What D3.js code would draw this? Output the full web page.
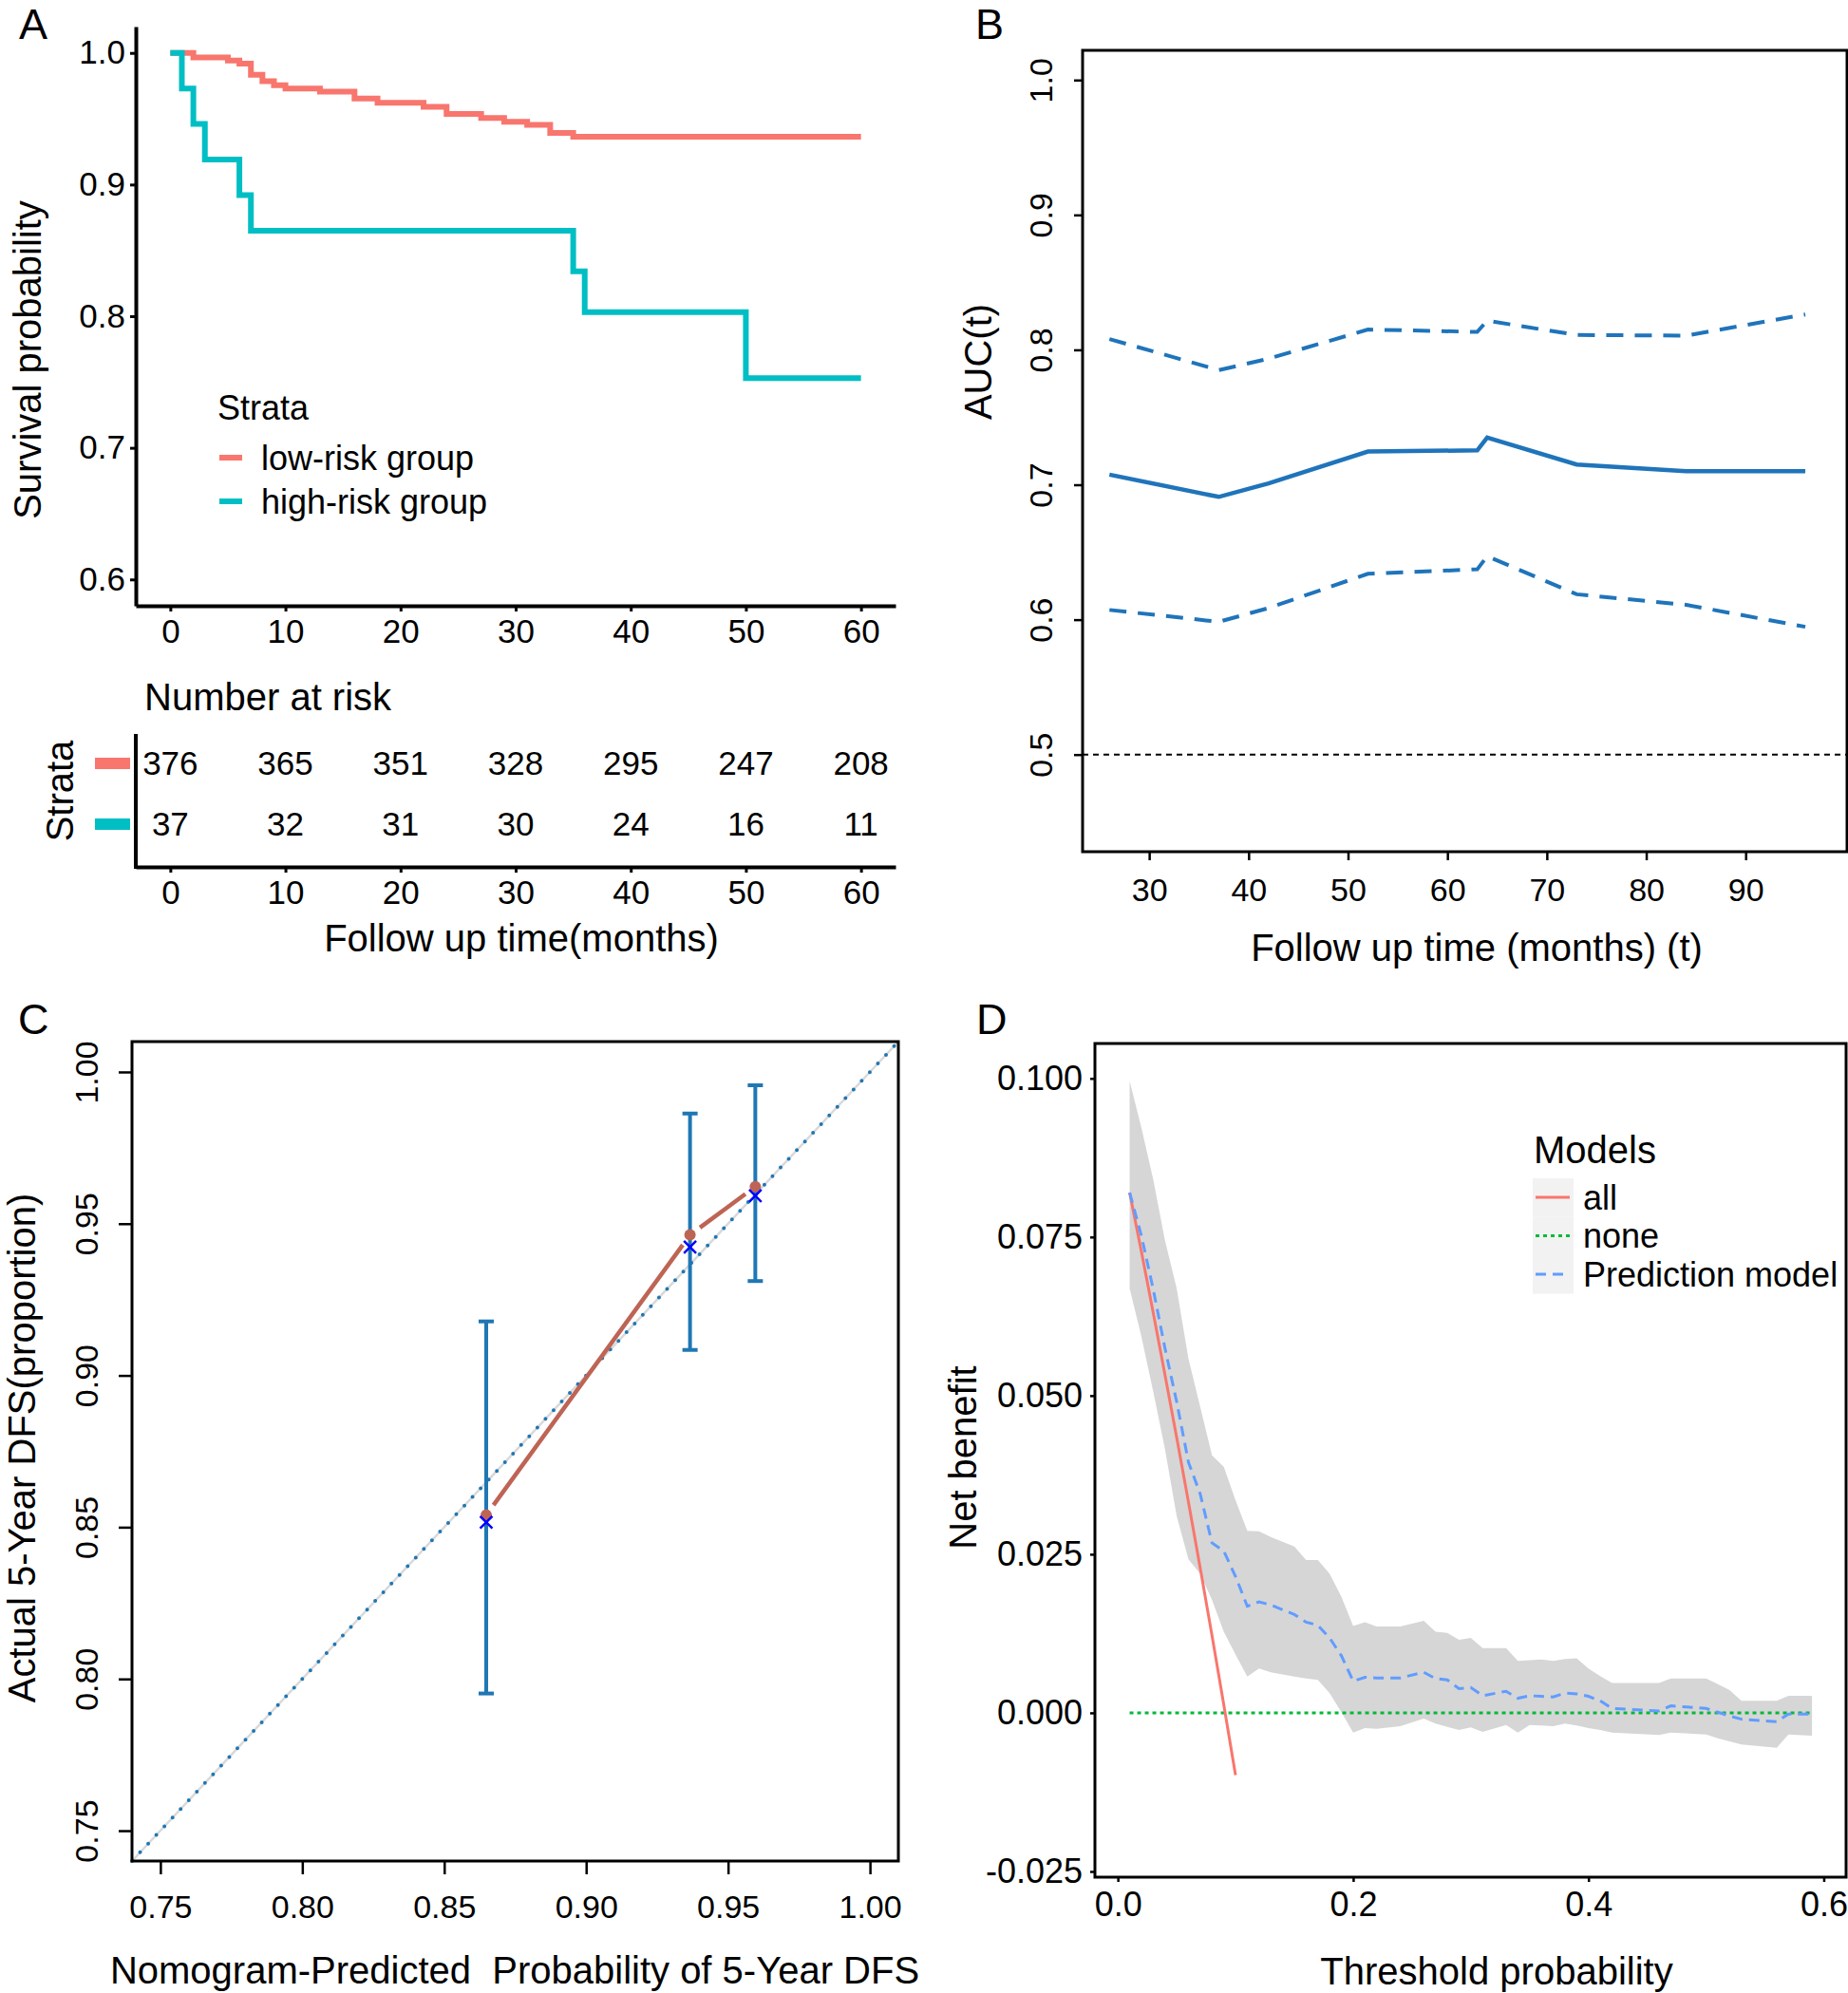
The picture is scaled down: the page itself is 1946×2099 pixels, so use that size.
<!DOCTYPE html>
<html lang="en">
<head>
<meta charset="utf-8">
<title>Survival, time-dependent AUC, calibration and decision curve</title>
<script src="https://d3js.org/d3.v7.min.js"></script>
<style>
  body { margin: 0; background: #fff; }
  svg text { font-family: "Liberation Sans", Arial, Helvetica, sans-serif; fill: #000; }
  .tag { font-size: 45px; }
  .title { font-size: 40px; }
</style>
</head>
<body>
<svg id="fig" width="1946" height="2099"></svg>
<script>
// ---- A: Kaplan-Meier ----
const kmLowTime  = [0, 2, 5, 6, 7, 8, 9, 10, 13, 16, 18, 22, 24, 27, 29, 31, 33, 35, 60];
const kmLowSurv  = [1.0, 0.9966, 0.9942, 0.9918, 0.9834, 0.9785, 0.9754, 0.973, 0.9706, 0.9653,
                    0.9622, 0.959, 0.9537, 0.9506, 0.9477, 0.9453, 0.9392, 0.9363, 0.9363];
const kmHighTime = [0, 1, 2, 3, 6, 7, 35, 36, 50, 60];
const kmHighSurv = [1.0, 0.973, 0.946, 0.919, 0.892, 0.865, 0.834, 0.803, 0.753, 0.753];
const kmYTicks   = [0.6, 0.7, 0.8, 0.9, 1.0];
const riskTimes  = [0, 10, 20, 30, 40, 50, 60];
const riskLow    = [376, 365, 351, 328, 295, 247, 208];
const riskHigh   = [37, 32, 31, 30, 24, 16, 11];
const strataNames = ["low-risk group", "high-risk group"];

// ---- B: time-dependent AUC ----
const aucTime  = [26, 37, 42, 52, 63, 64, 73, 84, 96];
const aucMean  = [0.7075, 0.691, 0.701, 0.7246, 0.7255, 0.735, 0.715, 0.710, 0.710];
const aucUpper = [0.808, 0.785, 0.7934, 0.815, 0.8133, 0.8216, 0.811, 0.8105, 0.8262];
const aucLower = [0.6072, 0.5984, 0.6086, 0.634, 0.6373, 0.647, 0.6188, 0.611, 0.5947];
const aucXTicks = [30, 40, 50, 60, 70, 80, 90];
const aucYTicks = [0.5, 0.6, 0.7, 0.8, 0.9, 1.0];

// ---- C: calibration ----
const calPred = [0.8648, 0.9366, 0.9596];
const calObs  = [0.8540, 0.9463, 0.9622];
const calKM   = [0.8516, 0.9423, 0.9592];
const calLo   = [0.7952, 0.9084, 0.9311];
const calHi   = [0.9178, 0.9863, 0.9956];
const calTicks = [0.75, 0.80, 0.85, 0.90, 0.95, 1.00];

// ---- D: decision curve ----
const dcaThresh = [0.01, 0.02, 0.03, 0.04, 0.05, 0.06, 0.07, 0.08, 0.09, 0.10, 0.11, 0.12, 0.13, 0.15,
                   0.16, 0.17, 0.18, 0.19, 0.20, 0.21, 0.22, 0.24, 0.26, 0.27, 0.28, 0.29, 0.30, 0.31,
                   0.33, 0.34, 0.35, 0.36, 0.37, 0.38, 0.39, 0.40, 0.41, 0.42, 0.46, 0.47, 0.50, 0.51,
                   0.52, 0.53, 0.56, 0.57, 0.59];
const dcaModel = [0.0820, 0.0752, 0.0668, 0.0575, 0.0490, 0.0395, 0.0345, 0.0268, 0.0255, 0.0215,
                  0.0168, 0.0175, 0.0170, 0.0155, 0.0143, 0.0138, 0.0118, 0.0090, 0.0050, 0.0056,
                  0.0055, 0.0055, 0.0064, 0.0054, 0.0052, 0.0038, 0.0040, 0.0027, 0.0034, 0.0023,
                  0.0027, 0.0026, 0.0025, 0.0031, 0.0030, 0.0026, 0.0019, 0.0007, 0.0003, 0.0011,
                  0.0007, 0.0001, -0.0005, -0.0010, -0.0014, -0.0002, -0.0002];
const dcaHi    = [0.0996, 0.0922, 0.0841, 0.0745, 0.0669, 0.0558, 0.0482, 0.0406, 0.0388, 0.0335,
                  0.0287, 0.0286, 0.0277, 0.0262, 0.0241, 0.0241, 0.0219, 0.0183, 0.0137, 0.0143,
                  0.0136, 0.0136, 0.0145, 0.0128, 0.0126, 0.0115, 0.0118, 0.0102, 0.0102, 0.0082,
                  0.0083, 0.0084, 0.0082, 0.0085, 0.0086, 0.0070, 0.0058, 0.0047, 0.0047, 0.0054,
                  0.0054, 0.0045, 0.0036, 0.0019, 0.0019, 0.0027, 0.0027];
const dcaLo    = [0.0669, 0.0593, 0.0507, 0.0416, 0.0310, 0.0242, 0.0219, 0.0178, 0.0128, 0.0092,
                  0.0057, 0.0070, 0.0064, 0.0057, 0.0054, 0.0052, 0.0031, 0.0001, -0.0031, -0.0024,
                  -0.0025, -0.0021, -0.0009, -0.0017, -0.0022, -0.0027, -0.0023, -0.0030, -0.0019, -0.0031,
                  -0.0019, -0.0020, -0.0021, -0.0017, -0.0020, -0.0024, -0.0027, -0.0031, -0.0035, -0.0031,
                  -0.0034, -0.0040, -0.0045, -0.0050, -0.0055, -0.0034, -0.0036];
const dcaAllThresh = [0.01, 0.02, 0.03, 0.04, 0.05, 0.06, 0.07, 0.08, 0.09, 0.10];
const dcaAll       = [0.0820, 0.0727, 0.0631, 0.0533, 0.0434, 0.0332, 0.0228, 0.0122, 0.0013, -0.0098];
const dcaNoneThresh = [0.01, 0.59];
const dcaNone       = [0, 0];
const dcaXTicks = [0, 0.2, 0.4, 0.6];
const dcaYTicks = [-0.025, 0, 0.025, 0.05, 0.075, 0.1];
const modelNames = ["all", "none", "Prediction model"];

const svg = d3.select("#fig");
svg.append("rect").attr("width", 1946).attr("height", 2099).attr("fill", "#fff");

function styleAxis(g, size, tickW) {
  g.selectAll(".tick line").attr("stroke", "#000").attr("stroke-width", tickW);
  g.selectAll(".tick text").style("font-size", size + "px");
}
function rotateTicks(g, off) {
  g.selectAll(".tick text")
    .attr("x", 0).attr("y", -off).attr("dy", null)
    .attr("text-anchor", "middle")
    .attr("transform", "rotate(-90)");
}
function vTitle(x, y, txt) {
  svg.append("text").attr("class", "title")
    .attr("transform", `translate(${x},${y}) rotate(-90)`)
    .attr("text-anchor", "middle").style("white-space", "pre").text(txt);
}
function hTitle(x, y, txt, size) {
  return svg.append("text").attr("class", "title").attr("x", x).attr("y", y)
    .attr("text-anchor", "middle").style("white-space", "pre")
    .style("font-size", (size || 40) + "px").text(txt);
}

// ================= Panel A =================
const xA = d3.scaleLinear().domain([-3, 63]).range([143, 943]);
const yA = d3.scaleLinear().domain([0.58, 1.02]).range([638, 28]);
const redKM = "#F8766D", cyanKM = "#00BFC4";

const axAx = svg.append("g").attr("transform", "translate(0,638)")
  .call(d3.axisBottom(xA).tickValues(riskTimes).tickSize(6).tickSizeOuter(0).tickPadding(8));
axAx.select(".domain").attr("stroke-width", 4);
styleAxis(axAx, 35, 3);
const axAy = svg.append("g").attr("transform", "translate(143,0)")
  .call(d3.axisLeft(yA).tickValues(kmYTicks).tickFormat(d3.format(".1f")).tickSize(6).tickSizeOuter(0).tickPadding(5));
axAy.select(".domain").attr("stroke-width", 4);
styleAxis(axAy, 35, 3);

const stepLine = d3.line().curve(d3.curveStepAfter).x(d => xA(d[0])).y(d => yA(d[1]));
svg.append("path").datum(d3.zip(kmLowTime, kmLowSurv)).attr("d", stepLine)
  .attr("fill", "none").attr("stroke", redKM).attr("stroke-width", 6);
svg.append("path").datum(d3.zip(kmHighTime, kmHighSurv)).attr("d", stepLine)
  .attr("fill", "none").attr("stroke", cyanKM).attr("stroke-width", 6);

// legend
svg.append("text").attr("x", 229).attr("y", 442).style("font-size", "36px").text("Strata");
[redKM, cyanKM].forEach((c, i) => {
  const y = 482 + i * 46;
  svg.append("line").attr("x1", 231).attr("x2", 255).attr("y1", y).attr("y2", y)
    .attr("stroke", c).attr("stroke-width", 6);
  svg.append("text").attr("x", 275).attr("y", y).attr("dy", "0.35em")
    .style("font-size", "36px").text(strataNames[i]);
});
vTitle(43, 379, "Survival probability");
svg.append("text").attr("class", "tag").attr("x", 20).attr("y", 41).text("A");

// risk table
svg.append("text").attr("class", "title").attr("x", 152).attr("y", 748).text("Number at risk");
const axRx = svg.append("g").attr("transform", "translate(0,913)")
  .call(d3.axisBottom(xA).tickValues(riskTimes).tickSize(6).tickSizeOuter(0).tickPadding(8));
axRx.select(".domain").attr("stroke-width", 4);
styleAxis(axRx, 35, 3);
svg.append("line").attr("x1", 143).attr("x2", 143).attr("y1", 773).attr("y2", 915)
  .attr("stroke", "#000").attr("stroke-width", 4);
[[riskLow, 804, redKM], [riskHigh, 868, cyanKM]].forEach(([vals, y, c]) => {
  svg.append("rect").attr("x", 100).attr("y", y - 6).attr("width", 37).attr("height", 12).attr("fill", c);
  svg.selectAll(null).data(d3.zip(riskTimes, vals)).enter().append("text")
    .attr("x", d => xA(d[0])).attr("y", y).attr("dy", "0.35em")
    .attr("text-anchor", "middle").style("font-size", "35px").text(d => d[1]);
});
vTitle(77, 833, "Strata");
hTitle(549, 1002, "Follow up time(months)");

// ================= Panel B =================
const xB = d3.scaleLinear().domain([23.3, 100.2]).range([1140, 1945]);
const yB = d3.scaleLinear().domain([0.428, 1.022]).range([897, 53]);
const blueB = "#1F74BA";

svg.append("line").attr("x1", 1140).attr("x2", 1945).attr("y1", yB(0.5)).attr("y2", yB(0.5))
  .attr("stroke", "#000").attr("stroke-width", 2).attr("stroke-dasharray", "6,5");
const lineB = d3.line().x(d => xB(d[0])).y(d => yB(d[1]));
svg.append("path").datum(d3.zip(aucTime, aucMean)).attr("d", lineB)
  .attr("fill", "none").attr("stroke", blueB).attr("stroke-width", 4.5);
[aucUpper, aucLower].forEach(v => {
  svg.append("path").datum(d3.zip(aucTime, v)).attr("d", lineB)
    .attr("fill", "none").attr("stroke", blueB).attr("stroke-width", 4)
    .attr("stroke-dasharray", "18,12");
});
svg.append("rect").attr("x", 1140).attr("y", 53).attr("width", 805).attr("height", 844)
  .attr("fill", "none").attr("stroke", "#000").attr("stroke-width", 3);
const axBx = svg.append("g").attr("transform", "translate(0,897)")
  .call(d3.axisBottom(xB).tickValues(aucXTicks).tickSize(9).tickPadding(19));
axBx.select(".domain").remove();
styleAxis(axBx, 34, 2.5);
const axBy = svg.append("g").attr("transform", "translate(1140,0)")
  .call(d3.axisLeft(yB).tickValues(aucYTicks).tickFormat(d3.format(".1f")).tickSize(9));
axBy.select(".domain").remove();
styleAxis(axBy, 34, 2.5);
rotateTicks(axBy, 32);
vTitle(1044, 381, "AUC(t)");
hTitle(1555, 1012, "Follow up time (months) (t)");
svg.append("text").attr("class", "tag").attr("x", 1027).attr("y", 41).text("B");

// ================= Panel C =================
const xC = d3.scaleLinear().domain([0.74, 1.01]).range([139, 946]);
const yC = d3.scaleLinear().domain([0.74, 1.01]).range([1960, 1097]);
const blueC = "#1F77B4", redC = "#BE6455";

svg.append("line").attr("x1", xC(0.74)).attr("y1", yC(0.74)).attr("x2", xC(1.01)).attr("y2", yC(1.01))
  .attr("stroke", "#d9d9d9").attr("stroke-width", 2.5);
svg.append("line").attr("x1", xC(0.74)).attr("y1", yC(0.74)).attr("x2", xC(1.01)).attr("y2", yC(1.01))
  .attr("stroke", blueC).attr("stroke-width", 4).attr("stroke-linecap", "round")
  .attr("stroke-dasharray", "0,12.5");

calPred.forEach((p, i) => {
  const x = xC(p);
  svg.append("line").attr("x1", x).attr("x2", x).attr("y1", yC(calLo[i])).attr("y2", yC(calHi[i]))
    .attr("stroke", blueC).attr("stroke-width", 4);
  [calLo[i], calHi[i]].forEach(v => {
    svg.append("line").attr("x1", x - 8).attr("x2", x + 8).attr("y1", yC(v)).attr("y2", yC(v))
      .attr("stroke", blueC).attr("stroke-width", 4);
  });
});
// observed line, drawn with gaps at the points
const calPts = d3.zip(calPred, calObs).map(d => [xC(d[0]), yC(d[1])]);
d3.pairs(calPts).forEach(([a, b]) => {
  const dx = b[0] - a[0], dy = b[1] - a[1], L = Math.hypot(dx, dy), g = 13;
  svg.append("line")
    .attr("x1", a[0] + dx * g / L).attr("y1", a[1] + dy * g / L)
    .attr("x2", b[0] - dx * g / L).attr("y2", b[1] - dy * g / L)
    .attr("stroke", redC).attr("stroke-width", 4.5);
});
svg.selectAll(null).data(calPts).enter().append("circle")
  .attr("cx", d => d[0]).attr("cy", d => d[1]).attr("r", 6).attr("fill", redC);
svg.selectAll(null).data(d3.zip(calPred, calKM)).enter().append("path")
  .attr("d", d3.symbol(d3.symbolX, 110))
  .attr("transform", d => `translate(${xC(d[0])},${yC(d[1])})`)
  .attr("stroke", "#0000FF").attr("stroke-width", 2.5).attr("fill", "none");

svg.append("rect").attr("x", 139).attr("y", 1097).attr("width", 807).attr("height", 863)
  .attr("fill", "none").attr("stroke", "#000").attr("stroke-width", 3);
const axCx = svg.append("g").attr("transform", "translate(0,1960)")
  .call(d3.axisBottom(xC).tickValues(calTicks).tickFormat(d3.format(".2f")).tickSize(14).tickPadding(22));
axCx.select(".domain").remove();
styleAxis(axCx, 34, 2.5);
const axCy = svg.append("g").attr("transform", "translate(139,0)")
  .call(d3.axisLeft(yC).tickValues(calTicks).tickFormat(d3.format(".2f")).tickSize(14));
axCy.select(".domain").remove();
styleAxis(axCy, 34, 2.5);
rotateTicks(axCy, 36);
vTitle(37, 1525, "Actual 5-Year DFS(proportion)");
hTitle(542, 2089, "Nomogram-Predicted  Probability of 5-Year DFS");
svg.append("text").attr("class", "tag").attr("x", 19).attr("y", 1089).text("C");

// ================= Panel D =================
const xD = d3.scaleLinear().domain([-0.0195, 0.619]).range([1153, 1944]);
const yD = d3.scaleLinear().domain([-0.0259, 0.1055]).range([1977, 1099]);
const colAll = "#F8766D", colNone = "#00BA38", colModel = "#619CFF";

svg.append("path").datum(dcaThresh.map((t, i) => [t, dcaLo[i], dcaHi[i]]))
  .attr("d", d3.area().x(d => xD(d[0])).y0(d => yD(d[1])).y1(d => yD(d[2])))
  .attr("fill", "#D6D6D6");
const lineD = d3.line().x(d => xD(d[0])).y(d => yD(d[1]));
svg.append("path").datum(d3.zip(dcaNoneThresh, dcaNone)).attr("d", lineD)
  .attr("fill", "none").attr("stroke", colNone).attr("stroke-width", 3).attr("stroke-dasharray", "4,4");
svg.append("path").datum(d3.zip(dcaAllThresh, dcaAll)).attr("d", lineD)
  .attr("fill", "none").attr("stroke", colAll).attr("stroke-width", 3);
svg.append("path").datum(d3.zip(dcaThresh, dcaModel)).attr("d", lineD)
  .attr("fill", "none").attr("stroke", colModel).attr("stroke-width", 3).attr("stroke-dasharray", "11,7");

svg.append("rect").attr("x", 1153).attr("y", 1099).attr("width", 791).attr("height", 878)
  .attr("fill", "none").attr("stroke", "#000").attr("stroke-width", 3);
const axDx = svg.append("g").attr("transform", "translate(0,1977)")
  .call(d3.axisBottom(xD).tickValues(dcaXTicks).tickFormat(d3.format(".1f")).tickSize(5).tickPadding(10));
axDx.select(".domain").remove();
styleAxis(axDx, 36, 2.5);
const axDy = svg.append("g").attr("transform", "translate(1153,0)")
  .call(d3.axisLeft(yD).tickValues(dcaYTicks).tickFormat(d => d.toFixed(3)).tickSize(5).tickPadding(8));
axDy.select(".domain").remove();
styleAxis(axDy, 36, 2.5);

// legend
svg.append("text").attr("x", 1615).attr("y", 1225).style("font-size", "40px").text("Models");
[[colAll, null], [colNone, "4,4"], [colModel, "11,7"]].forEach(([c, dash], i) => {
  const y0 = 1241 + i * 40.5;
  svg.append("rect").attr("x", 1614).attr("y", y0).attr("width", 43).attr("height", 40.5).attr("fill", "#F2F2F2");
  svg.append("line").attr("x1", 1617).attr("x2", 1653).attr("y1", y0 + 20).attr("y2", y0 + 20)
    .attr("stroke", c).attr("stroke-width", 3).attr("stroke-dasharray", dash);
  svg.append("text").attr("x", 1667).attr("y", y0 + 20).attr("dy", "0.35em")
    .style("font-size", "36px").text(modelNames[i]);
});
vTitle(1028, 1535, "Net benefit");
hTitle(1576, 2090, "Threshold probability");
svg.append("text").attr("class", "tag").attr("x", 1028).attr("y", 1089).text("D");
</script>
</body>
</html>
